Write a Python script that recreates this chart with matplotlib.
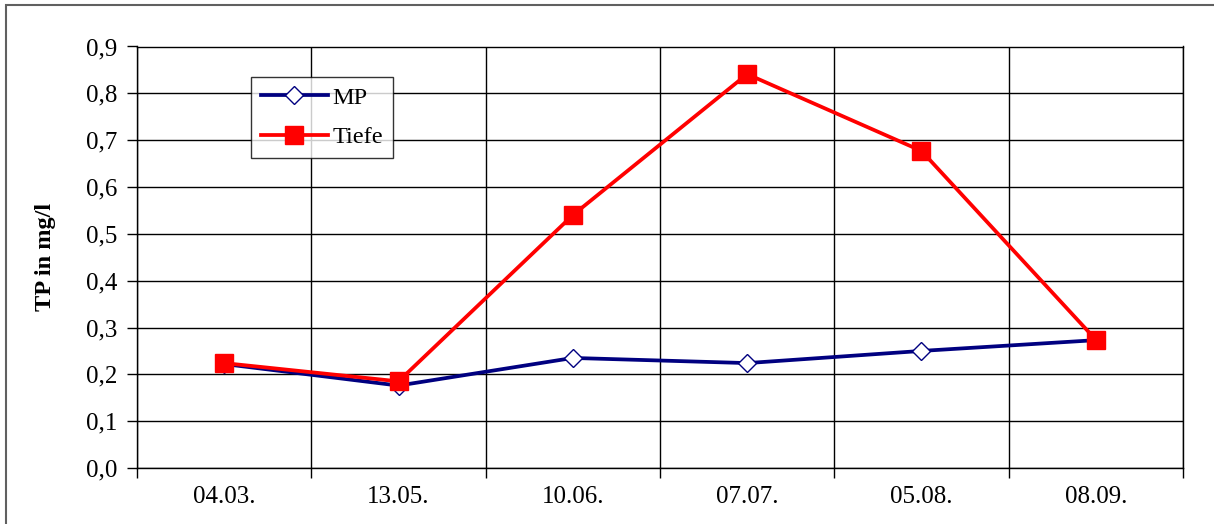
import matplotlib
matplotlib.use("Agg")
import matplotlib.pyplot as plt
from matplotlib.patches import Rectangle
from matplotlib.ticker import FixedLocator

categories = ["04.03.", "13.05.", "10.06.", "07.07.", "05.08.", "08.09."]
mp = [0.222, 0.176, 0.235, 0.224, 0.250, 0.273]
tiefe = [0.224, 0.185, 0.540, 0.841, 0.677, 0.274]
ytick_labels = ["0,0", "0,1", "0,2", "0,3", "0,4", "0,5", "0,6", "0,7", "0,8", "0,9"]

plt.rcParams['font.family'] = ['Liberation Serif', 'DejaVu Serif']

fig = plt.figure(figsize=(12.14, 5.24), dpi=100)
ax = fig.add_axes([137/1214, 1-468/524, (1183-137)/1214, (468-46.5)/524])

x = list(range(len(categories)))
ax.plot(x, mp, color="#000080", lw=2.7, marker="D", markersize=9,
        markerfacecolor="white", markeredgecolor="#000080", markeredgewidth=1.0,
        label="MP", zorder=3)
ax.plot(x, tiefe, color="#FF0000", lw=2.7, marker="s", markersize=13.5,
        markerfacecolor="#FF0000", markeredgecolor="#FF0000",
        label="Tiefe", zorder=4)

ax.set_xlim(-0.5, len(categories) - 0.5)
ax.set_ylim(0, 0.9)
ax.yaxis.set_major_locator(FixedLocator([i/10 for i in range(10)]))
ax.set_yticklabels(ytick_labels)
ax.set_xticks(x)
ax.set_xticklabels(categories)
ax.xaxis.set_minor_locator(FixedLocator([i - 0.5 for i in range(len(categories) + 1)]))

ax.tick_params(axis="x", which="major", length=0, pad=13, labelsize=18)
ax.tick_params(axis="x", which="minor", length=7, width=1, direction="out", color="black")
ax.tick_params(axis="y", which="major", length=7, width=1, direction="out", pad=7, labelsize=18)

ax.grid(True, axis="y", which="major", color="black", lw=1)
ax.grid(True, axis="x", which="minor", color="black", lw=1)
ax.set_axisbelow(True)
for s in ax.spines.values():
    s.set_color("black")
    s.set_linewidth(1)

ax.set_ylabel("TP in mg/l", fontsize=17.5, fontweight="bold", labelpad=22)

leg = ax.legend(loc="upper left", bbox_to_anchor=((251-137)/1046, 1-(77-46.5)/421.5),
                fontsize=17.5, frameon=True, fancybox=False, edgecolor="black",
                borderpad=0.4, handlelength=2.75, labelspacing=0.72, handletextpad=0.2,
                borderaxespad=0)
leg.get_frame().set_linewidth(1)

fig.patches.append(Rectangle((6/1214, -0.02), 1.1, 1-5/524 + 0.02, transform=fig.transFigure,
                             fill=False, edgecolor="#606060", lw=1.5))

fig.savefig("out.png", dpi=100)
